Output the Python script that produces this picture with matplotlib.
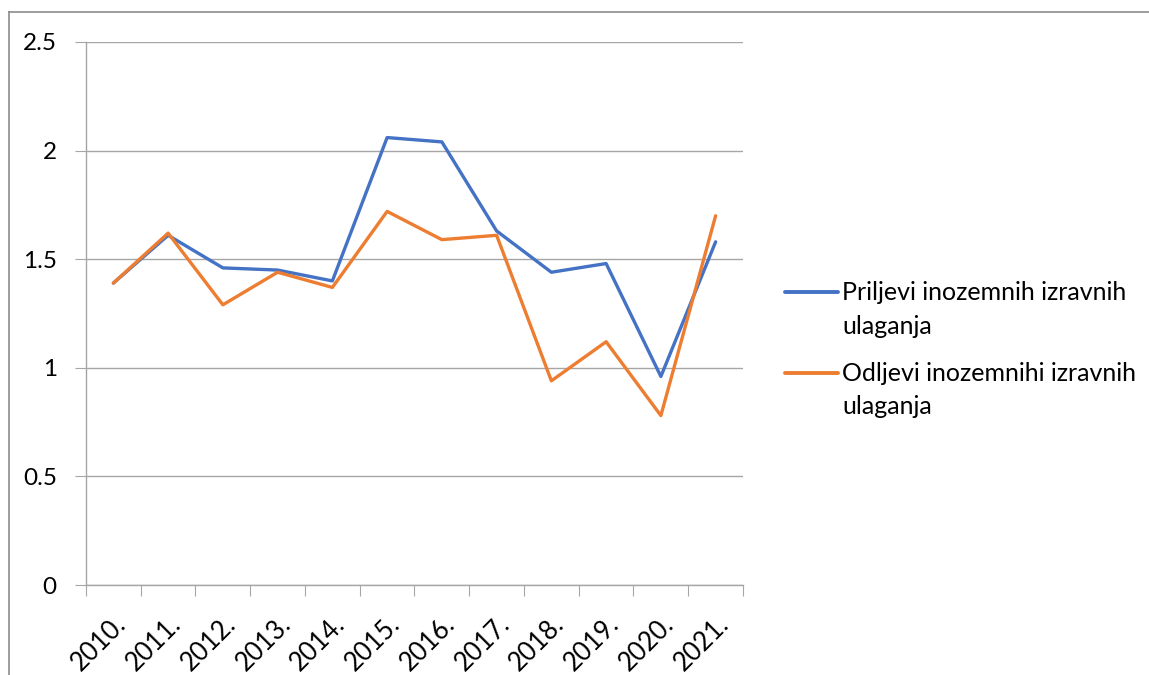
import matplotlib
matplotlib.use('Agg')
import matplotlib.pyplot as plt
from matplotlib.lines import Line2D

plt.rcParams['font.family'] = ['Lato', 'DejaVu Sans']

years = ['2010.', '2011.', '2012.', '2013.', '2014.', '2015.', '2016.', '2017.', '2018.', '2019.', '2020.', '2021.']
priljevi = [1.39, 1.61, 1.46, 1.45, 1.40, 2.06, 2.04, 1.63, 1.44, 1.48, 0.96, 1.58]
odljevi = [1.39, 1.62, 1.29, 1.44, 1.37, 1.72, 1.59, 1.61, 0.94, 1.12, 0.78, 1.70]
label_priljevi = 'Priljevi inozemnih izravnih\nulaganja'
label_odljevi = 'Odljevi inozemnihi izravnih\nulaganja'
col_priljevi = '#4472C4'
col_odljevi = '#ED7D31'

W, H = 1149, 675
fig = plt.figure(figsize=(W / 100, H / 100), dpi=100)

# chart border (only top and left edges visible)
fig.add_artist(Line2D([9 / W, 9 / W], [0, 1 - 12 / H], color='#8c8c8c', lw=1.2, transform=fig.transFigure))
fig.add_artist(Line2D([9 / W, 1], [1 - 12 / H, 1 - 12 / H], color='#8c8c8c', lw=1.2, transform=fig.transFigure))

ax = fig.add_axes([86 / W, (H - 585) / H, (743 - 86) / W, (585 - 42) / H])
x = list(range(len(years)))
ax.plot(x, priljevi, color=col_priljevi, lw=2.4, solid_joinstyle='round', solid_capstyle='round')
ax.plot(x, odljevi, color=col_odljevi, lw=2.4, solid_joinstyle='round', solid_capstyle='round')

ax.set_xlim(-0.5, len(years) - 0.5)
ax.set_ylim(0, 2.5)
ax.set_yticks([0, 0.5, 1, 1.5, 2, 2.5])
ax.set_yticklabels(['0', '0.5', '1', '1.5', '2', '2.5'])
ax.yaxis.grid(True, color='#a6a6a6', lw=1)
ax.set_axisbelow(True)

# category ticks sit on the boundaries, labels at centres
ax.set_xticks([i - 0.5 for i in range(len(years) + 1)])
ax.set_xticklabels([])
ax.set_xticks(x, minor=True)
ax.set_xticklabels(years, minor=True, rotation=45, ha='right', va='top', rotation_mode='anchor', fontsize=18.5)
ax.tick_params(axis='x', which='major', length=8, color='#a6a6a6', direction='out')
ax.tick_params(axis='x', which='minor', length=0, pad=19)
ax.tick_params(axis='y', length=8, color='#a6a6a6', labelsize=17.5, pad=13)

for s in ['top', 'right']:
    ax.spines[s].set_visible(False)
for s in ['left', 'bottom']:
    ax.spines[s].set_color('#a6a6a6')
    ax.spines[s].set_linewidth(1)

# legend drawn by hand: handle lines up with the first line of each label
for label, col, y0 in [(label_priljevi, col_priljevi, 292), (label_odljevi, col_odljevi, 373)]:
    fig.add_artist(Line2D([785 / W, 838 / W], [1 - y0 / H, 1 - y0 / H], color=col, lw=2.8,
                          solid_capstyle='round', transform=fig.transFigure))
    for k, line in enumerate(label.split('\n')):
        fig.text(842 / W, 1 - (y0 + 34 * k) / H, line, fontsize=18, va='center', ha='left')

fig.savefig('out.png', dpi=100)
